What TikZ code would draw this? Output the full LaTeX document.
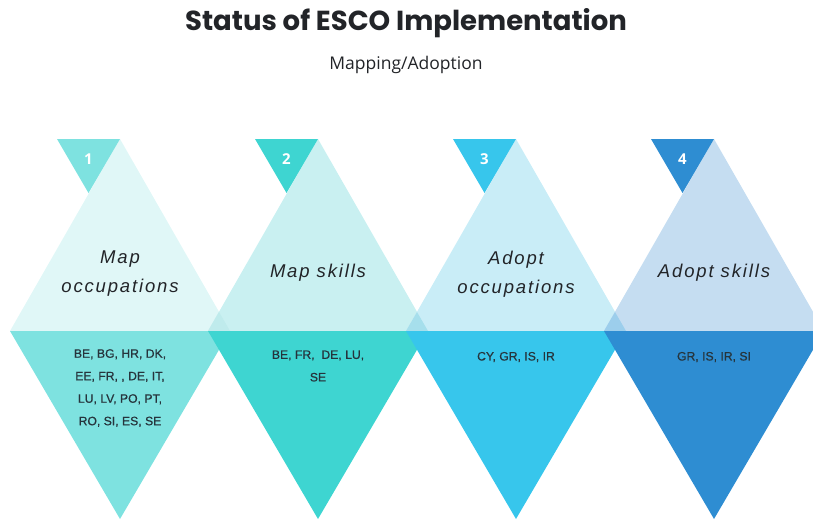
\documentclass[tikz,border=0pt]{standalone}
\usepackage{fontspec}
\setmainfont{Liberation Sans}
\newfontfamily\titlefont{Poppins}
\newfontfamily\subfont{Open Sans}
\newfontfamily\stepfont{Liberation Sans}[LetterSpace=10]
\newfontfamily\listfont{Liberation Sans}[FakeBold=0.6]

% stage colours
\definecolor{upA}{HTML}{E0F7F7}\definecolor{loA}{HTML}{7EE2E0}
\definecolor{upB}{HTML}{C9F0F1}\definecolor{loB}{HTML}{3ED5D1}
\definecolor{upC}{HTML}{C9EDF7}\definecolor{loC}{HTML}{37C6EC}
\definecolor{upD}{HTML}{C5DDF1}\definecolor{loD}{HTML}{2E8DD2}
\definecolor{ovAB}{HTML}{BFEBEC}
\definecolor{ovBC}{HTML}{A6DFEC}
\definecolor{ovCD}{HTML}{9CCEEC}
\definecolor{inktext}{HTML}{222428}
\definecolor{listtext}{HTML}{26343C}

\tikzset{
  tri/.style={draw=none},
  titletext/.style={font=\titlefont\bfseries\fontsize{27.5}{32}\selectfont, text=inktext},
  subtext/.style={font=\subfont\fontsize{17.5}{21}\selectfont, text=inktext},
  steptext/.style={font=\stepfont\itshape\fontsize{18.5}{29}\selectfont, text=inktext, align=center},
  numtext/.style={font=\subfont\bfseries\fontsize{15}{17}\selectfont, text=white},
  countries/.style={font=\listfont\fontsize{12.2}{22.5}\selectfont, text=listtext, align=center},
}

\begin{document}
\begin{tikzpicture}[x=1pt,y=-1pt]
\useasboundingbox (0,0) rectangle (813,522);
\clip (0,0) rectangle (813,522);

% upper (light) halves of the four diamonds
\foreach \c/\col in {120/upA,318/upB,516/upC,714/upD}
  \fill[tri,\col] (\c-110,331) -- (\c,139) -- (\c+110,331) -- cycle;

% where neighbouring upper halves overlap
\foreach \c/\col in {120/ovAB,318/ovBC,516/ovCD}
  \fill[tri,\col] (\c+88,331) -- (\c+99,312) -- (\c+110,331) -- cycle;

% lower (strong) halves
\foreach \c/\col in {120/loA,318/loB,516/loC,714/loD}
  \fill[tri,\col] (\c-110,331) -- (\c+110,331) -- (\c,519) -- cycle;

% numbered corner triangles
\foreach \c/\col/\n in {120/loA/1,318/loB/2,516/loC/3,714/loD/4}{
  \fill[tri,\col] (\c-63,139) -- (\c,139) -- (\c-31.5,193) -- cycle;
  \node[numtext] (num\n) at (\c-31.5,159) {\n};
}

% headings
\node[titletext] (title) at (406,23) {Status of ESCO Implementation};
\node[subtext] (subtitle) at (406,65) {Mapping/Adoption};

% stage names
\node[steptext] (step1) at (120,274) {Map\\occupations};
\node[steptext] (step2) at (318,273) {Map skills};
\node[steptext] (step3) at (516,274) {Adopt\\occupations};
\node[steptext] (step4) at (714,273) {Adopt skills};

% country lists
\node[countries] (list1) at (120,388) {BE, BG, HR, DK,\\EE, FR, , DE, IT,\\LU, LV, PO, PT,\\RO, SI, ES, SE};
\node[countries] (list2) at (318,366) {BE, FR,\ \ DE, LU,\\SE};
\node[countries] (list3) at (516,357) {CY, GR, IS, IR};
\node[countries] (list4) at (714,357) {GR, IS, IR, SI};
\end{tikzpicture}
\end{document}
